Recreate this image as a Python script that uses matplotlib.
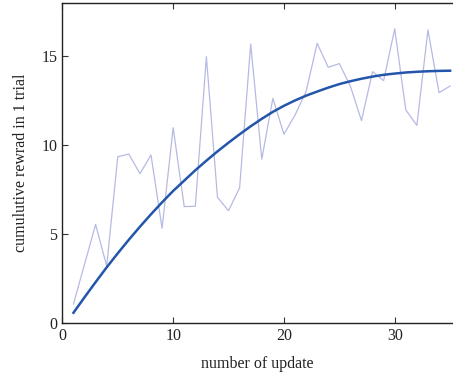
import numpy as np
import matplotlib
matplotlib.use("Agg")
import matplotlib.pyplot as plt

updates = list(range(1, 36))
reward = [1.07, 3.3, 5.54, 3.2, 9.34, 9.49, 8.39, 9.44, 5.32, 10.97,
          6.54, 6.56, 14.96, 7.06, 6.31, 7.6, 15.67, 9.2, 12.62, 10.6,
          11.68, 13.0, 15.71, 14.36, 14.57, 13.3, 11.37, 14.12, 13.61, 16.52,
          11.97, 11.1, 16.46, 12.94, 13.31]
trend = [0.58, 1.45, 2.30, 3.13, 3.92, 4.68, 5.41, 6.11, 6.78, 7.42,
         8.00, 8.58, 9.12, 9.64, 10.13, 10.60, 11.05, 11.47, 11.86, 12.20,
         12.50, 12.77, 13.00, 13.22, 13.42, 13.58, 13.72, 13.84, 13.94, 14.01,
         14.07, 14.11, 14.14, 14.16, 14.17]

plt.rcParams['font.family'] = ['Liberation Serif', 'DejaVu Serif']
fig = plt.figure(figsize=(4.53, 3.77), dpi=100)
ax = fig.add_axes([0.1377, 0.143, 0.862, 0.848])

ax.plot(updates, reward, color='#b6bae3', lw=0.9)
ax.plot(updates, trend, color='#2356aa', lw=1.8, solid_joinstyle='round')

ax.set_xlim(0, 35.25)
ax.set_ylim(0, 17.95)
ax.set_xticks([0, 10, 20, 30])
ax.set_yticks([0, 5, 10, 15])
ax.tick_params(direction='in', top=True, right=False, labelsize=11.5, length=4,
               color='#333333', labelcolor='#222222')
ax.set_xlabel('number of update', fontsize=11.5, labelpad=9, color='#222222')
ax.set_ylabel('cumulutive rewrad in 1 trial', fontsize=11.5, labelpad=9, color='#222222')
for s in ax.spines.values():
    s.set_linewidth(1.0)
    s.set_color('#222222')
ax.spines['right'].set_visible(False)

fig.savefig('out.png', dpi=100)
